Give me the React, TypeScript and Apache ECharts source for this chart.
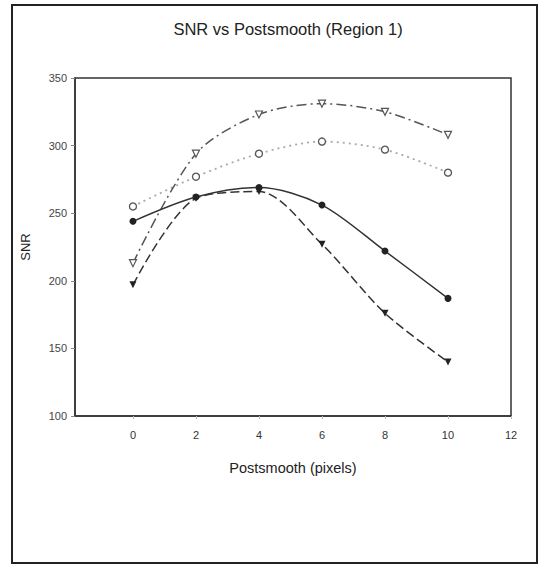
import React, { useEffect, useRef } from "react";
import * as echarts from "echarts";

const xValues = [0, 2, 4, 6, 8, 10];
const filledCircle = [244, 262, 269, 256, 222, 187];
const filledTriangle = [197, 261, 266, 227, 176, 140];
const openTriangle = [213, 294, 323, 331, 325, 308];
const openCircle = [255, 277, 294, 303, 297, 280];
const xTickLabels = [0, 2, 4, 6, 8, 10, 12];
const yTickLabels = [100, 150, 200, 250, 300, 350];

const pairs = (ys: number[]) => xValues.map((x, i) => [x, ys[i]]);

export default function App() {
  const ref = useRef<HTMLDivElement>(null);
  useEffect(() => {
    document.body.style.margin = "0";
    const chart = echarts.init(ref.current!, null, { renderer: "svg" });
    const font = "Liberation Sans, Arial, sans-serif";
    chart.setOption({
      animation: false,
      backgroundColor: "#ffffff",
      title: {
        text: "SNR vs Postsmooth (Region 1)",
        left: 283,
        top: 15,
        textAlign: "center",
        textStyle: { fontFamily: font, fontSize: 16.5, fontWeight: "normal", color: "#222" },
      },
      graphic: [
        {
          type: "rect",
          shape: { x: 12, y: 5, width: 525, height: 558 },
          style: { fill: "none", stroke: "#222", lineWidth: 2 },
          silent: true,
        },
      ],
      grid: {
        left: 75,
        right: 32,
        top: 78,
        bottom: 149,
        show: true,
        borderColor: "#333",
        borderWidth: 1.5,
        backgroundColor: "transparent",
      },
      xAxis: {
        type: "value",
        min: -1.84,
        max: 12,
        name: "Postsmooth (pixels)",
        nameLocation: "middle",
        nameGap: 44,
        nameTextStyle: { fontFamily: font, fontSize: 14.5, color: "#222" },
        axisLine: { show: true, onZero: false, lineStyle: { color: "#333", width: 1.5 } },
        axisTick: {
          show: true,
          customValues: xTickLabels,
          length: 3,
          inside: false,
          lineStyle: { color: "#bbb" },
        },
        axisLabel: {
          customValues: xTickLabels,
          fontFamily: font,
          fontSize: 11,
          color: "#333",
          margin: 13,
        },
        splitLine: { show: false },
      },
      yAxis: {
        type: "value",
        min: 100,
        max: 350,
        interval: 50,
        name: "SNR",
        nameLocation: "middle",
        nameGap: 43,
        nameRotate: 90,
        nameTextStyle: { fontFamily: font, fontSize: 13, color: "#222" },
        axisLine: { show: true, onZero: false, lineStyle: { color: "#333", width: 1.5 } },
        axisTick: { show: true, length: 4, lineStyle: { color: "#888" } },
        axisLabel: {
          fontFamily: font,
          fontSize: 11,
          color: "#444",
          margin: 8,
          formatter: (v: number) => (yTickLabels.includes(v) ? String(v) : ""),
        },
        splitLine: { show: false },
      },
      series: [
        {
          type: "line",
          data: pairs(openCircle),
          smooth: 0.3,
          symbol: "circle",
          symbolSize: 7,
          lineStyle: { color: "#aaa", width: 1.8, type: [2, 4] },
          itemStyle: { color: "#fff", borderColor: "#555", borderWidth: 1.3 },
          z: 2,
        },
        {
          type: "line",
          data: pairs(openTriangle),
          smooth: 0.3,
          symbol: "triangle",
          symbolRotate: 180,
          symbolSize: 7,
          lineStyle: { color: "#555", width: 1.5, type: [10, 4, 2, 4] },
          itemStyle: { color: "#fff", borderColor: "#555", borderWidth: 1.2 },
          z: 3,
        },
        {
          type: "line",
          data: pairs(filledTriangle),
          smooth: 0.3,
          symbol: "triangle",
          symbolRotate: 180,
          symbolSize: 7,
          lineStyle: { color: "#333", width: 1.5, type: [9, 4] },
          itemStyle: { color: "#222" },
          z: 4,
        },
        {
          type: "line",
          data: pairs(filledCircle),
          smooth: 0.3,
          symbol: "circle",
          symbolSize: 7,
          lineStyle: { color: "#333", width: 1.5, type: "solid" },
          itemStyle: { color: "#222" },
          z: 5,
        },
      ],
    });
    return () => chart.dispose();
  }, []);
  return <div ref={ref} style={{ width: 543, height: 565 }} />;
}
